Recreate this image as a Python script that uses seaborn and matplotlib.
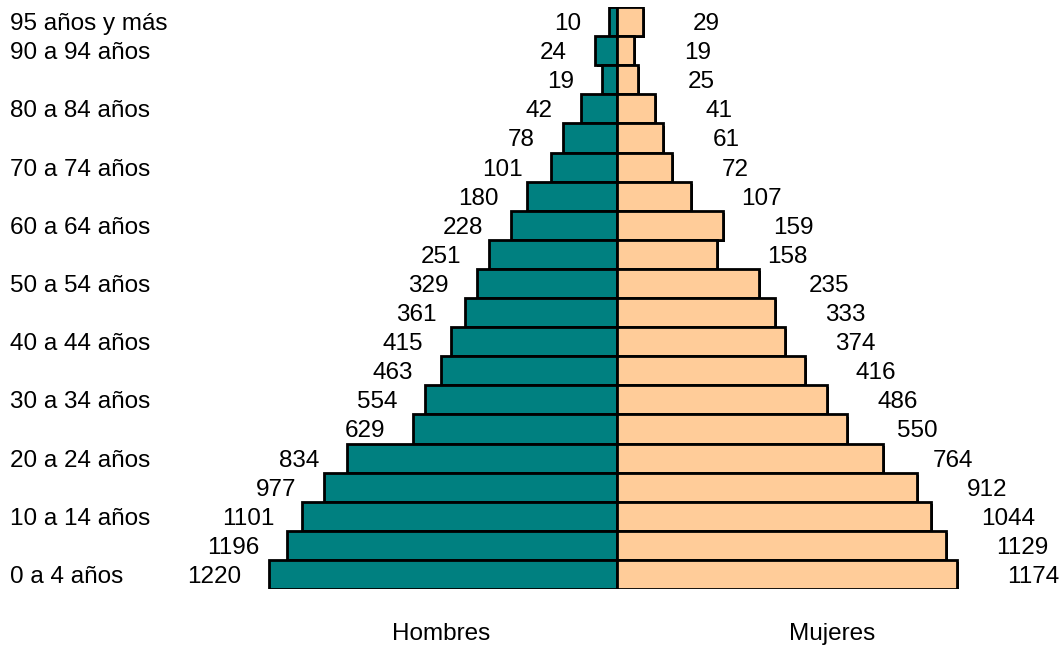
import pandas as pd
import seaborn as sns
import matplotlib.pyplot as plt
from matplotlib import patheffects as pe

# grupos de edad, de arriba hacia abajo
grupos = ["95 años y más", "90 a 94 años", "85 a 89 años", "80 a 84 años",
          "75 a 79 años", "70 a 74 años", "65 a 69 años", "60 a 64 años",
          "55 a 59 años", "50 a 54 años", "45 a 49 años", "40 a 44 años",
          "35 a 39 años", "30 a 34 años", "25 a 29 años", "20 a 24 años",
          "15 a 19 años", "10 a 14 años", "5 a 9 años", "0 a 4 años"]

# valores rotulados
hombres = [10, 24, 19, 42, 78, 101, 180, 228, 251, 329,
           361, 415, 463, 554, 629, 834, 977, 1101, 1196, 1220]
mujeres = [29, 19, 25, 41, 61, 72, 107, 159, 158, 235,
           333, 374, 416, 486, 550, 764, 912, 1044, 1129, 1174]

# largo de cada barra tal como se ve en el grafico (unidades arbitrarias)
largo_hombres = [8, 22, 15, 36, 54, 66, 90, 106, 128, 140,
                 152, 166, 176, 192, 204, 270, 293, 315, 330, 348]
largo_mujeres = [26, 17, 21, 38, 46, 55, 74, 106, 100, 142,
                 158, 168, 188, 210, 230, 266, 300, 314, 329, 340]

# solo se muestran algunas etiquetas de edad
grupos_visibles = ["95 años y más", "90 a 94 años", "80 a 84 años", "70 a 74 años",
                   "60 a 64 años", "50 a 54 años", "40 a 44 años", "30 a 34 años",
                   "20 a 24 años", "10 a 14 años", "0 a 4 años"]

df = pd.concat([
    pd.DataFrame({"grupo": grupos, "largo": [-v for v in largo_hombres], "sexo": "Hombres"}),
    pd.DataFrame({"grupo": grupos, "largo": largo_mujeres, "sexo": "Mujeres"}),
])

sns.set_style("white")
plt.rcParams["font.family"] = ["Liberation Sans", "DejaVu Sans"]
plt.rcParams["text.color"] = "black"
fs = 17.5

fig = plt.figure(figsize=(10.64, 6.51), dpi=100)
ax = fig.add_axes([0, 0.0952, 1, 0.894])

sns.barplot(data=df, x="largo", y="grupo", hue="sexo", order=grupos,
            palette={"Hombres": "#008080", "Mujeres": "#FFCC99"},
            saturation=1, dodge=False, width=1, edgecolor="black", linewidth=2,
            legend=False, ax=ax)

for bar in ax.patches:
    bar.set_path_effects([pe.SimplePatchShadow(offset=(1.5, -1.5), shadow_rgbFace="black", alpha=1),
                          pe.Normal()])

ax.set_xlim(-617, 447)
ax.set_ylim(len(grupos) - 0.5, -0.5)
ax.axis("off")

for i, g in enumerate(grupos):
    ax.text(-largo_hombres[i] - 28, i, str(hombres[i]), ha="right", va="center_baseline", fontsize=fs)
    ax.text(largo_mujeres[i] + 50, i, str(mujeres[i]), ha="left", va="center_baseline", fontsize=fs)
    if g in grupos_visibles:
        ax.text(10 / 1064, i, g, transform=ax.get_yaxis_transform(),
                ha="left", va="center_baseline", fontsize=fs)

fig.text(441 / 1064, 1 - 634 / 651, "Hombres", ha="center", va="center", fontsize=fs)
fig.text(832 / 1064, 1 - 634 / 651, "Mujeres", ha="center", va="center", fontsize=fs)

fig.savefig("out.png", dpi=100)
